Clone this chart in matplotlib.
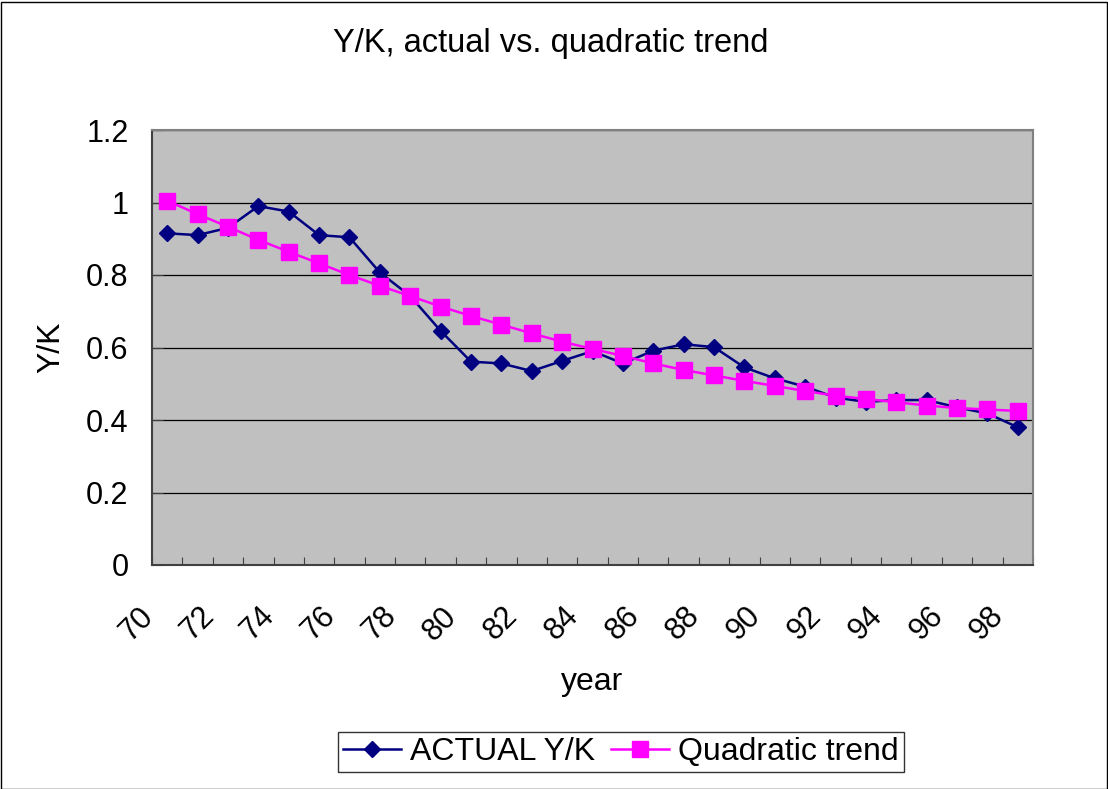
import matplotlib
matplotlib.use("Agg")
import matplotlib.pyplot as plt
from matplotlib.patches import Rectangle
from matplotlib.transforms import ScaledTranslation
import numpy as np

plt.rcParams['font.family'] = ['Liberation Sans', 'DejaVu Sans']

years = [str(y) for y in range(70, 99)]
actual_yk = [0.915, 0.910, 0.93, 0.990, 0.975, 0.910, 0.904, 0.807, 0.742, 0.646,
             0.561, 0.556, 0.535, 0.563, 0.590, 0.556, 0.591, 0.609, 0.601, 0.545,
             0.515, 0.492, 0.462, 0.450, 0.455, 0.455, 0.435, 0.418, 0.380]
quad_trend = [1.005, 0.968, 0.933, 0.897, 0.864, 0.832, 0.800, 0.770, 0.742, 0.713,
              0.687, 0.663, 0.639, 0.616, 0.596, 0.577, 0.556, 0.538, 0.523, 0.508,
              0.494, 0.480, 0.467, 0.458, 0.449, 0.440, 0.433, 0.429, 0.425]
y_ticks = [0, 0.2, 0.4, 0.6, 0.8, 1, 1.2]
y_ticklabels = ['0', '0.2', '0.4', '0.6', '0.8', '1', '1.2']

W, H = 1108, 789
fig = plt.figure(figsize=(W / 100, H / 100), dpi=100)
fig.patch.set_facecolor('white')
fig.add_artist(Rectangle((0.5 / W, 0.5 / H), 1 - 2 / W, 1 - 2 / H, transform=fig.transFigure,
                         fill=False, edgecolor='black', linewidth=1))

ax = fig.add_axes([152 / W, 1 - 565 / H, (1033 - 152) / W, (565 - 130) / H])
ax.set_facecolor('#C0C0C0')

x = np.arange(len(years))
ax.plot(x, actual_yk, color='#000080', marker='D', markersize=8, linewidth=1.8,
        label='ACTUAL Y/K', zorder=3)
ax.plot(x, quad_trend, color='#FF00FF', marker='s', markersize=11, linewidth=1.8,
        label='Quadratic trend', zorder=4)

ax.set_xlim(-0.5, len(years) - 0.5)
ax.set_ylim(0, 1.2)
ax.set_yticks(y_ticks)
ax.set_yticklabels(y_ticklabels, fontsize=22)
ax.yaxis.grid(True, color='black', linewidth=0.9)
ax.set_axisbelow(True)

ax.set_xticks(np.arange(-0.5, len(years), 1.0))
ax.set_xticklabels([])
ax.set_xticks(x[::2], minor=True)
ax.set_xticklabels(years[::2], minor=True, rotation=45, fontsize=22, ha='right', va='top')
ax.tick_params(axis='x', which='minor', length=0, pad=26)
ax.tick_params(axis='x', which='major', direction='in', length=6, color='#404040')
ax.tick_params(axis='y', direction='in', length=8, color='#404040', pad=17)
offset = ScaledTranslation(-8 / 100, 0, fig.dpi_scale_trans)
for lab in ax.get_xticklabels(minor=True):
    lab.set_transform(lab.get_transform() + offset)

for s in ['left', 'bottom']:
    ax.spines[s].set_color('#404040')
    ax.spines[s].set_linewidth(1.5)
for s in ['top', 'right']:
    ax.spines[s].set_color('#808080')
    ax.spines[s].set_linewidth(1.5)

ax.set_xlabel('year', fontsize=23)
ax.xaxis.set_label_coords(0.4994, -(667 - 565) / 435)
ax.set_ylabel('Y/K', fontsize=23)
ax.yaxis.set_label_coords(-(152 - 66) / 881, 0.5)
fig.text(551 / W, 1 - 52 / H, 'Y/K, actual vs. quadratic trend',
         fontsize=23.5, ha='center', va='baseline')

leg = fig.legend(loc='center', bbox_to_anchor=(621 / W, 1 - 752 / H), ncol=2, fontsize=23,
                 frameon=True, fancybox=False, edgecolor='black', handlelength=1.8,
                 handletextpad=0.3, columnspacing=0.5, borderpad=0.15, borderaxespad=0)
leg.get_frame().set_linewidth(1)

fig.savefig('out.png', dpi=100)
